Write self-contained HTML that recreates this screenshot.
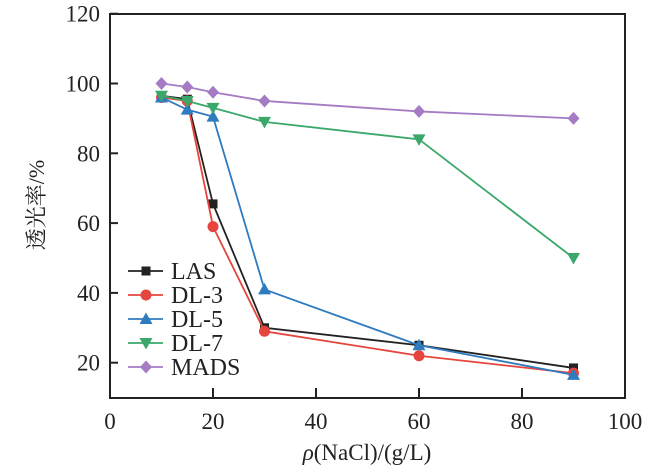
<!DOCTYPE html>
<html><head><meta charset="utf-8"><style>
body{margin:0;background:#fff}
svg text{font-family:"Liberation Serif","Noto Serif CJK SC",serif;fill:#222}
</style></head><body>
<svg id="s" width="650" height="471" xmlns="http://www.w3.org/2000/svg">
<rect x="110" y="14" width="515" height="384" fill="none" stroke="#222" stroke-width="2"/>
<g id="t"></g>
<text x="44" y="205" font-size="22" text-anchor="middle" transform="rotate(-90 44 205)">透光率/%</text>
<text x="367" y="460" font-size="23" text-anchor="middle"><tspan font-style="italic">ρ</tspan>(NaCl)/(g/L)</text>
</svg>
<script>
var s=document.getElementById('t'),h='';
function X(v){return 110+v*5.15}function Y(v){return 397.6-(v-10)*3.49}
for(var v=20;v<=120;v+=20){h+='<line x1="110" x2="118" y1="'+Y(v)+'" y2="'+Y(v)+'" stroke="#222" stroke-width="2"/>';h+='<text x="100" y="'+(Y(v)+8)+'" font-size="23" text-anchor="end">'+v+'</text>';}
for(var v=0;v<=100;v+=20){if(v>0&&v<100)h+='<line x1="'+X(v)+'" x2="'+X(v)+'" y1="388" y2="398" stroke="#222" stroke-width="2"/>';h+='<text x="'+X(v)+'" y="429" font-size="23" text-anchor="middle">'+v+'</text>';}
var xs=[10,15,20,30,60,90];
var S=[["LAS","#222",[96.5,95.5,65.5,30,25,18.5],"sq"],["DL-3","#e5453c",[96,95,59,29,22,17],"ci"],["DL-5","#2f7bc0",[96,92.5,90.5,41,25,16.5],"up"],["DL-7","#3aa86a",[96.5,95,93,89,84,50],"dn"],["MADS","#a57bc4",[100,99,97.5,95,92,90],"di"]];
function mk(t,x,y,c){if(t=="sq")return '<rect x="'+(x-4.5)+'" y="'+(y-4.5)+'" width="9" height="9" fill="'+c+'"/>';
if(t=="ci")return '<circle cx="'+x+'" cy="'+y+'" r="5.5" fill="'+c+'"/>';
if(t=="up")return '<polygon points="'+x+','+(y-6.5)+' '+(x-6.5)+','+(y+5)+' '+(x+6.5)+','+(y+5)+'" fill="'+c+'"/>';
if(t=="dn")return '<polygon points="'+x+','+(y+6.5)+' '+(x-6.5)+','+(y-5)+' '+(x+6.5)+','+(y-5)+'" fill="'+c+'"/>';
return '<polygon points="'+x+','+(y-6.5)+' '+(x+6)+','+y+' '+x+','+(y+6.5)+' '+(x-6)+','+y+'" fill="'+c+'"/>';}
var ly=[271,295,319,343,367];
S.forEach(function(d,i){var p=xs.map(function(x,j){return X(x)+','+Y(d[2][j])}).join(' ');
h+='<polyline points="'+p+'" fill="none" stroke="'+d[1]+'" stroke-width="1.8"/>';
xs.forEach(function(x,j){h+=mk(d[3],X(x),Y(d[2][j]),d[1])});
h+='<line x1="128" x2="163" y1="'+ly[i]+'" y2="'+ly[i]+'" stroke="'+d[1]+'" stroke-width="1.8"/>'+mk(d[3],146,ly[i],d[1]);
h+='<text x="171" y="'+(ly[i]+8)+'" font-size="24">'+d[0]+'</text>';});
s.innerHTML=h;
</script>
</body></html>
